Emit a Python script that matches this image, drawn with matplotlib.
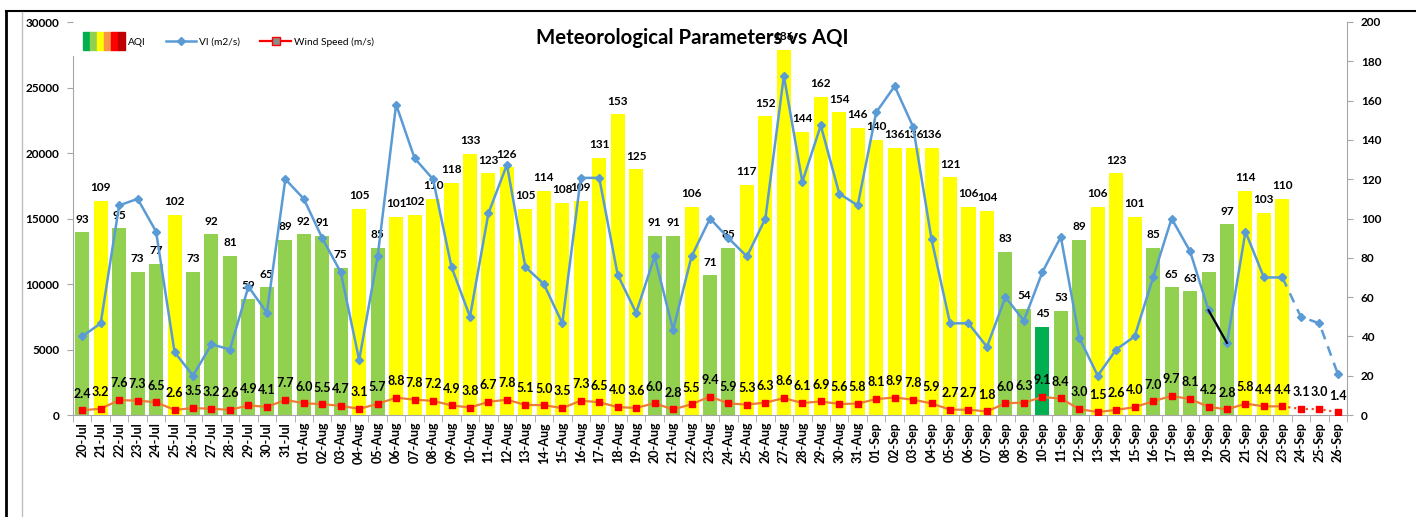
import matplotlib
matplotlib.use('Agg')
import matplotlib.pyplot as plt
import numpy as np
import pandas as pd
from matplotlib.patches import Rectangle
from matplotlib.lines import Line2D
from matplotlib.legend_handler import HandlerTuple

plt.rcParams['font.family'] = ['Lato', 'DejaVu Sans']

# Days 20-Jul .. 26-Sep
dates = pd.date_range('2019-07-20', '2019-09-26').strftime('%d-%b').tolist()

# AQI (only up to 23-Sep)
aqi = [93, 109, 95, 73, 77, 102, 73, 92, 81, 59, 65, 89,
       92, 91, 75, 105, 85, 101, 102, 110, 118, 133, 123, 126, 105, 114,
       108, 109, 131, 153, 125, 91, 91, 106, 71, 85, 117, 152, 186, 144,
       162, 154, 146,
       140, 136, 136, 136, 121, 106, 104, 83, 54, 45, 53, 89, 106, 123,
       101, 85, 65, 63, 73, 97, 114, 103, 110]

# Ventilation index (m2/s), last 3 days forecast
vi = [6000, 7000, 16000, 16500, 14000, 4800, 3000, 5400, 5000, 9800, 7800, 18000,
      16500, 13500, 10900, 4200, 12100, 23700, 19600, 18000, 11300, 7500, 15400,
      19100, 11300, 10000, 7000, 18100, 18100, 10700, 7800, 12100, 6500, 12100,
      15000, 13500, 12100, 15000, 25900, 17800, 22100, 16900, 16000,
      23100, 25100, 22000, 13400, 7000, 7000, 5200, 9000, 7200, 10900, 13600,
      5900, 3000, 5000, 6000, 10500, 15000, 12500, 8000, 5500, 14000, 10500,
      10500, 7500, 7000, 3150]

# Wind speed (m/s)
wind = [2.4, 3.2, 7.6, 7.3, 6.5, 2.6, 3.5, 3.2, 2.6, 4.9, 4.1, 7.7,
        6.0, 5.5, 4.7, 3.1, 5.7, 8.8, 7.8, 7.2, 4.9, 3.8, 6.7, 7.8, 5.1, 5.0,
        3.5, 7.3, 6.5, 4.0, 3.6, 6.0, 2.8, 5.5, 9.4, 5.9, 5.3, 6.3, 8.6, 6.1,
        6.9, 5.6, 5.8,
        8.1, 8.9, 7.8, 5.9, 2.7, 2.7, 1.8, 6.0, 6.3, 9.1, 8.4, 3.0, 1.5, 2.6,
        4.0, 7.0, 9.7, 8.1, 4.2, 2.8, 5.8, 4.4, 4.4, 3.1, 3.0, 1.4]

legend_colours = ['#00B050', '#92D050', '#FFFF00', '#F79646', '#FF0000', '#C00000']


def aqi_colour(v):
    if v <= 50:
        return '#00B050'
    elif v <= 100:
        return '#92D050'
    return '#FFFF00'


# wider / taller colour strip for the AQI legend entry
class WideTuple(HandlerTuple):
    def create_artists(self, legend, orig_handle, xdescent, ydescent,
                       width, height, fontsize, trans):
        new_w, new_h = width * 1.35, height * 2.5
        return super().create_artists(legend, orig_handle,
                                      xdescent + (new_w - width), ydescent + (new_h - height) / 2,
                                      new_w, new_h, fontsize, trans)


x = np.arange(len(dates))
n = len(aqi)
i_black = dates.index('19-Sep')

W, H = 1416, 517
fig = plt.figure(figsize=(W / 100, H / 100), dpi=100)
ax = fig.add_axes([73 / W, 1 - 415 / H, 1274 / W, 393 / H])
ax2 = ax.twinx()

# bars + wind on right scale
ax.bar(x[:n], aqi, width=0.76, color=[aqi_colour(v) for v in aqi], zorder=2)
for xi, v in zip(x[:n], aqi):
    ax.annotate(str(v), (xi, v), xytext=(0, 9.5), textcoords='offset points',
                ha='center', va='center', fontsize=8.5, fontweight='bold', zorder=5)

ax.plot(x[:n], wind[:n], color='#ED7D31', lw=1.6, zorder=3)
ax.plot(x[n - 1:], wind[n - 1:], color='#F0502A', lw=1.6, ls=':', zorder=3)
ax.scatter(x, wind, marker='s', s=24, color='#FF0000', zorder=4)
for xi, v in zip(x, wind):
    ax.annotate('%.1f' % v, (xi, v), xytext=(0, 12), textcoords='offset points',
                ha='center', va='center', fontsize=9, fontweight='bold', zorder=5)

# ventilation index on left scale
blue = '#5B9BD5'
ax2.plot(x[:n], vi[:n], color=blue, lw=1.8, marker='D', ms=4.5, zorder=3)
ax2.plot(x[n - 1:], vi[n - 1:], color=blue, lw=1.8, ls=(0, (4, 3)), marker='D', ms=4.5, zorder=3)
ax2.plot(x[i_black:i_black + 2], vi[i_black:i_black + 2], color='black', lw=1.5, zorder=4)

ax.set_xlim(-0.5, len(dates) - 0.5)
ax.set_ylim(0, 200)
ax2.set_ylim(0, 30000)

ax.set_xticks(x)
ax.set_xticklabels(dates, rotation=90, fontsize=9, fontweight='bold')
ax.set_xticks(np.arange(-0.5, len(dates), 1), minor=True)
ax.tick_params(axis='x', which='major', length=0, pad=5)
ax.tick_params(axis='x', which='minor', length=5, color='#A6A6A6')

ax.yaxis.tick_right()
ax2.yaxis.tick_left()
ax.set_yticks(np.arange(0, 201, 20))
ax2.set_yticks(np.arange(0, 30001, 5000))
for a in (ax, ax2):
    a.tick_params(axis='y', length=4, color='#A6A6A6', labelsize=8.5, pad=6)
    for lab in a.get_yticklabels():
        lab.set_fontweight('bold')
    for s in a.spines.values():
        s.set_visible(False)
ax.spines['right'].set_visible(True)
ax.spines['bottom'].set_visible(True)
ax2.spines['left'].set_visible(True)
ax2.spines['left'].set_bounds(0, 27400)   # legend sits over the top of the left axis
for s in (ax.spines['right'], ax.spines['bottom'], ax2.spines['left']):
    s.set_color('#A6A6A6')

# legend
aqi_handle = tuple(Rectangle((0, 0), 1, 1, color=c) for c in legend_colours)
vi_handle = Line2D([], [], color=blue, lw=1.8, marker='D', ms=4.5)
wind_handle = Line2D([], [], color='#FF0000', lw=1.6, marker='s', ms=6,
                     markerfacecolor='#8C8C8C', markeredgecolor='#FF0000')
leg = ax2.legend([aqi_handle, vi_handle, wind_handle],
                 ['AQI', 'VI (m2/s)', 'Wind Speed (m/s)'],
                 handler_map={tuple: WideTuple(ndivide=None, pad=0)},
                 loc='center left', bbox_to_anchor=(85 / W, 1 - 42 / H),
                 bbox_transform=fig.transFigure, ncol=3, frameon=False,
                 fontsize=7.3, handlelength=3.0, columnspacing=2.0,
                 handletextpad=0.3, borderpad=0.4)
leg.set_zorder(10)

fig.text(692 / W, 1 - 38 / H, 'Meteorological Parameters vs AQI', ha='center',
         va='center', fontsize=14.7, fontweight='bold', zorder=20)

# outer frame
fig.add_artist(Line2D([6 / W, 6 / W], [0, 1 - 11 / H], transform=fig.transFigure, color='black', lw=2))
fig.add_artist(Line2D([6 / W, 1], [1 - 11 / H, 1 - 11 / H], transform=fig.transFigure, color='black', lw=1.5))
fig.add_artist(Line2D([22 / W, 22 / W], [0, 1 - 12 / H], transform=fig.transFigure, color='#BFBFBF', lw=1))

fig.savefig('out.png', dpi=100)
